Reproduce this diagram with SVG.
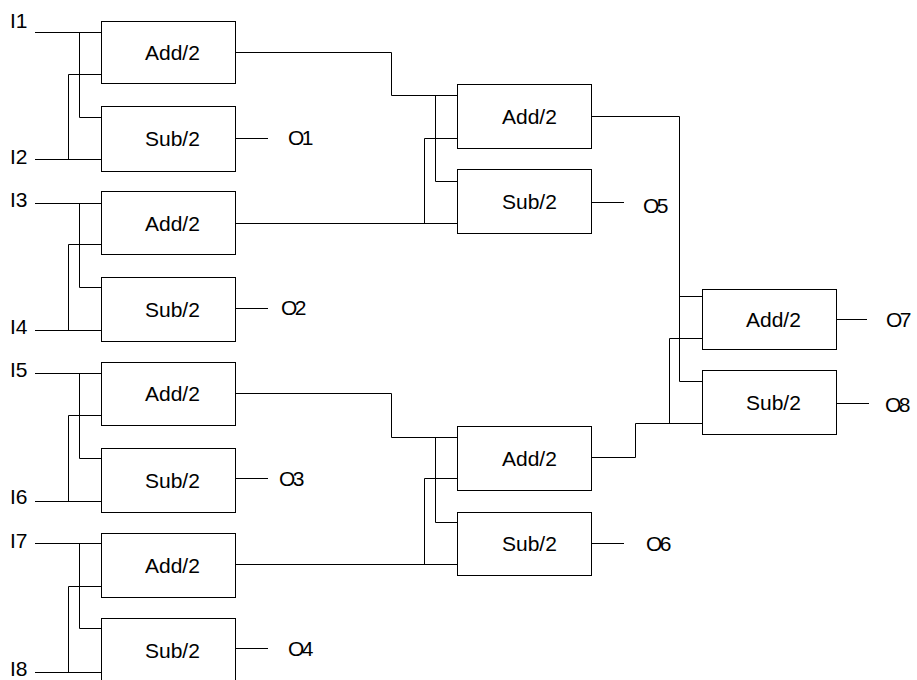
<svg xmlns="http://www.w3.org/2000/svg" width="917" height="680" viewBox="0 0 917 680">
<style>
.box{fill:#fff;stroke:#000;stroke-width:1}
.lbl{font-family:"Liberation Sans",Arial,sans-serif;font-size:21px;fill:#000}
.out{letter-spacing:-2.5px}
.w{fill:none;stroke:#000;stroke-width:1}
</style>
<rect width="917" height="680" fill="#fff"/>
<g id="connectors" class="w">
<path d="M35 32.5H101.5M79.5 32.5V117.5H101.5M35 159.5H101.5M68.5 159.5V74.5H101.5"/>
<path d="M35 203.5H101.5M79.5 203.5V287.5H101.5M35 330.5H101.5M68.5 330.5V244.5H101.5"/>
<path d="M35 373.5H101.5M79.5 373.5V458.5H101.5M35 501.5H101.5M68.5 501.5V415.5H101.5"/>
<path d="M35 543.5H101.5M79.5 543.5V628.5H101.5M35 672.5H101.5M68.5 672.5V586.5H101.5"/>
<path d="M235 138.5H268M235 308.5H268M235 478.5H268M235 648.5H268"/>
<path d="M235 52.5H391.5V95.5H457.5M435.5 95.5V181.5H457.5M235 223.5H457.5M424.5 223.5V138.5H457.5"/>
<path d="M235 393.5H391.5V437.5H457.5M435.5 437.5V522.5H457.5M235 564.5H457.5M424.5 564.5V478.5H457.5"/>
<path d="M591 202.5H624M591 543.5H624"/>
<path d="M591 116.5H679.5V381.5H702.5M679.5 296.5H702.5M591 457.5H635.5V423.5H702.5M669.5 423.5V338.5H702.5"/>
<path d="M836 319.5H867M836 403.5H869"/>
</g>
<g id="labels" class="lbl">
<text x="10" y="28">I1</text>
<text x="10" y="164">I2</text>
<text x="10" y="207">I3</text>
<text x="10" y="334">I4</text>
<text x="10" y="377">I5</text>
<text x="10" y="504">I6</text>
<text x="10" y="548">I7</text>
<text x="10" y="676">I8</text>
<text class="out" x="288" y="145">O1</text>
<text class="out" x="281" y="315">O2</text>
<text class="out" x="279" y="486">O3</text>
<text class="out" x="288" y="656">O4</text>
<text class="out" x="643" y="213">O5</text>
<text class="out" x="646" y="551">O6</text>
<text class="out" x="886" y="327">O7</text>
<text class="out" x="885" y="412">O8</text>
</g>
<g id="add1"><rect class="box" x="101.5" y="21.5" width="134" height="62"/><text class="lbl" x="145" y="60">Add/2</text></g>
<g id="sub1"><rect class="box" x="101.5" y="106.5" width="134" height="65"/><text class="lbl" x="145" y="146">Sub/2</text></g>
<g id="add2"><rect class="box" x="101.5" y="191.5" width="134" height="63"/><text class="lbl" x="145" y="231">Add/2</text></g>
<g id="sub2"><rect class="box" x="101.5" y="277.5" width="134" height="64"/><text class="lbl" x="145" y="317">Sub/2</text></g>
<g id="add3"><rect class="box" x="101.5" y="362.5" width="134" height="63"/><text class="lbl" x="145" y="401">Add/2</text></g>
<g id="sub3"><rect class="box" x="101.5" y="448.5" width="134" height="64"/><text class="lbl" x="145" y="488">Sub/2</text></g>
<g id="add4"><rect class="box" x="101.5" y="533.5" width="134" height="64"/><text class="lbl" x="145" y="573">Add/2</text></g>
<g id="sub4"><rect class="box" x="101.5" y="618.5" width="134" height="65"/><text class="lbl" x="145" y="658">Sub/2</text></g>
<g id="add5"><rect class="box" x="457.5" y="84.5" width="134" height="64"/><text class="lbl" x="502" y="124">Add/2</text></g>
<g id="sub5"><rect class="box" x="457.5" y="169.5" width="134" height="64"/><text class="lbl" x="502" y="209">Sub/2</text></g>
<g id="add6"><rect class="box" x="457.5" y="426.5" width="134" height="64"/><text class="lbl" x="502" y="466">Add/2</text></g>
<g id="sub6"><rect class="box" x="457.5" y="512.5" width="134" height="63"/><text class="lbl" x="502" y="551">Sub/2</text></g>
<g id="add7"><rect class="box" x="702.5" y="289.5" width="134" height="60"/><text class="lbl" x="746" y="327">Add/2</text></g>
<g id="sub7"><rect class="box" x="702.5" y="370.5" width="134" height="64"/><text class="lbl" x="746" y="410">Sub/2</text></g>
</svg>
